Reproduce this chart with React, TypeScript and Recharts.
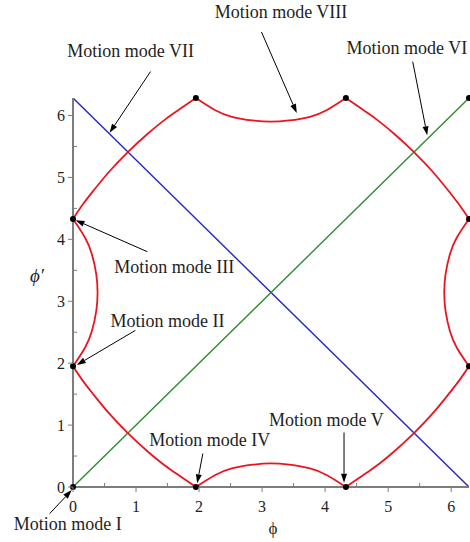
import { LineChart, Line, XAxis, YAxis, ReferenceDot, ReferenceLine } from "recharts";

const TWO_PI = 6.283;
const SERIF = "'Liberation Serif', 'DejaVu Serif', serif";
const AXIS_GRAY = "#7d7d7d";
const INK = "#1e1e1e";

const ticks = [0, 0.5, 1, 1.5, 2, 2.5, 3, 3.5, 4, 4.5, 5, 5.5, 6];

// boundary of the red region, one arc at a time, as [phi, phi'] pairs
const leftArc = [[0, 1.95], [0.19, 2.25], [0.3, 2.52], [0.37, 2.85], [0.39, 3.14], [0.37, 3.43], [0.3, 3.76], [0.19, 4.03], [0, 4.33]];
const rightArc = [[6.283, 1.95], [6.09, 2.25], [5.98, 2.52], [5.91, 2.85], [5.89, 3.14], [5.91, 3.43], [5.98, 3.76], [6.09, 4.03], [6.283, 4.33]];
const bottomArc = [[1.95, 0], [2.25, 0.19], [2.52, 0.3], [2.85, 0.36], [3.14, 0.38], [3.43, 0.36], [3.76, 0.3], [4.03, 0.19], [4.33, 0]];
const topArc = [[1.95, 6.283], [2.25, 6.09], [2.52, 5.98], [2.85, 5.92], [3.14, 5.9], [3.43, 5.92], [3.76, 5.98], [4.03, 6.09], [4.33, 6.283]];
const upperLeftArc = [[0, 4.33], [0.16, 4.57], [0.32, 4.78], [0.58, 5.1], [0.87, 5.41], [1.19, 5.71], [1.48, 5.95], [1.69, 6.1], [1.95, 6.283]];
const lowerLeftArc = [[0, 1.95], [0.16, 1.71], [0.32, 1.5], [0.58, 1.18], [0.87, 0.87], [1.19, 0.57], [1.48, 0.33], [1.69, 0.18], [1.95, 0]];
const upperRightArc = [[4.33, 6.283], [4.59, 6.1], [4.8, 5.95], [5.09, 5.71], [5.41, 5.41], [5.7, 5.1], [5.96, 4.78], [6.12, 4.57], [6.283, 4.33]];
const lowerRightArc = [[4.33, 0], [4.59, 0.18], [4.8, 0.33], [5.09, 0.57], [5.41, 0.87], [5.7, 1.18], [5.96, 1.5], [6.12, 1.71], [6.283, 1.95]];

// the four bulging arcs are smooth splines, the corner arcs stay monotone in phi
const redArcs = [
  { pts: leftArc, curve: "natural" },
  { pts: rightArc, curve: "natural" },
  { pts: bottomArc, curve: "natural" },
  { pts: topArc, curve: "natural" },
  { pts: upperLeftArc, curve: "monotoneX" },
  { pts: lowerLeftArc, curve: "monotoneX" },
  { pts: upperRightArc, curve: "monotoneX" },
  { pts: lowerRightArc, curve: "monotoneX" },
];

const diagonal = [[0, 0], [6.283, 6.283]];
const antiDiagonal = [[0, 6.283], [6.283, 0]];

const modePoints = [
  [0, 0], [0, 1.95], [0, 4.33], [1.95, 0], [4.33, 0],
  [1.95, 6.283], [4.33, 6.283], [6.283, 1.95], [6.283, 4.33], [6.283, 6.283],
];

const modeLabels = [
  { text: "Motion mode I", x: -0.085, y: -0.69, anchor: "middle" },
  { text: "Motion mode II", x: 1.5, y: 2.58, anchor: "middle" },
  { text: "Motion mode III", x: 1.605, y: 3.45, anchor: "middle" },
  { text: "Motion mode IV", x: 2.17, y: 0.67, anchor: "middle" },
  { text: "Motion mode V", x: 4.02, y: 0.98, anchor: "middle" },
  { text: "Motion mode VI", x: 4.34, y: 7.0, anchor: "start" },
  { text: "Motion mode VII", x: 0.915, y: 6.95, anchor: "middle" },
  { text: "Motion mode VIII", x: 3.3, y: 7.58, anchor: "middle" },
];

// [tail, head] in data units
const modeArrows = [
  [[-0.37, -0.43], [-0.02, -0.05]],
  [[0.99, 2.53], [0.06, 1.97]],
  [[1.18, 3.8], [0.04, 4.31]],
  [[2.06, 0.54], [1.97, 0.06]],
  [[4.3, 0.88], [4.3, 0.07]],
  [[5.39, 6.87], [5.62, 5.68]],
  [[1.23, 6.71], [0.58, 5.72]],
  [[2.99, 7.35], [3.55, 6.04]],
];

const toPoints = (arr: number[][]) => arr.map(([x, y]) => ({ x, y }));

const XTick = ({ x, y, payload }: any) => {
  const major = Number.isInteger(payload.value);
  return (
    <g>
      <line x1={x} x2={x} y1={y} y2={major ? y + 5 : y - 4} stroke={AXIS_GRAY} strokeWidth={1} />
      {major && (
        <text x={x} y={y + 25} textAnchor="middle" fontFamily={SERIF} fontSize={16} fill={INK}>
          {payload.value}
        </text>
      )}
    </g>
  );
};

const YTick = ({ x, y, payload }: any) => {
  const major = Number.isInteger(payload.value);
  return (
    <g>
      <line x1={x} x2={major ? x - 5 : x + 4} y1={y} y2={y} stroke={AXIS_GRAY} strokeWidth={1} />
      {major && (
        <text x={x - 8} y={y + 5.5} textAnchor="end" fontFamily={SERIF} fontSize={16} fill={INK}>
          {payload.value}
        </text>
      )}
    </g>
  );
};

const Arrow = ({ x1, y1, x2, y2 }: any) => {
  const a = Math.atan2(y2 - y1, x2 - x1);
  const len = 9;
  const half = 3;
  const bx = x2 - len * Math.cos(a);
  const by = y2 - len * Math.sin(a);
  const head = `${x2},${y2} ${bx - half * Math.sin(a)},${by + half * Math.cos(a)} ${bx + half * Math.sin(a)},${by - half * Math.cos(a)}`;
  return (
    <g>
      <line x1={x1} y1={y1} x2={bx} y2={by} stroke="#000" strokeWidth={1} />
      <polygon points={head} fill="#000" />
    </g>
  );
};

export default function App() {
  return (
    <div style={{ width: 470, height: 542, background: "#fff" }}>
      <style>{"body{margin:0}"}</style>
      <LineChart width={470} height={542} margin={{ top: 98, right: 1, bottom: 0, left: 0 }}>
        <XAxis
          type="number"
          dataKey="x"
          domain={[0, TWO_PI]}
          allowDataOverflow
          ticks={ticks}
          interval={0}
          height={55}
          tickSize={0}
          tickMargin={0}
          tickLine={false}
          tick={<XTick />}
          axisLine={{ stroke: AXIS_GRAY, strokeWidth: 2 }}
          label={{
            content: ({ viewBox }: any) => (
              <text x={viewBox.x + 200} y={viewBox.y + 47} textAnchor="middle" fontFamily={SERIF} fontSize={17} fill={INK}>
                ϕ
              </text>
            ),
          }}
        />
        <YAxis
          type="number"
          dataKey="y"
          domain={[0, TWO_PI]}
          allowDataOverflow
          ticks={ticks}
          interval={0}
          width={73}
          tickSize={0}
          tickMargin={0}
          tickLine={false}
          tick={<YTick />}
          axisLine={{ stroke: AXIS_GRAY, strokeWidth: 2 }}
          label={{
            content: ({ viewBox }: any) => (
              <text x={viewBox.x + 37} y={viewBox.y + 184} textAnchor="middle" fontFamily={SERIF} fontStyle="italic" fontSize={19} fill={INK}>
                ϕ′
              </text>
            ),
          }}
        />
        <Line data={toPoints(antiDiagonal)} dataKey="y" stroke="#2525c9" strokeWidth={1.4} dot={false} isAnimationActive={false} />
        <Line data={toPoints(diagonal)} dataKey="y" stroke="#2e8b30" strokeWidth={1.4} dot={false} isAnimationActive={false} />
        {redArcs.map((arc, i) => (
          <Line
            key={`arc-${i}`}
            data={toPoints(arc.pts)}
            dataKey="y"
            type={arc.curve as any}
            stroke="#ea1520"
            strokeWidth={1.8}
            dot={false}
            isAnimationActive={false}
          />
        ))}
        {modePoints.map(([x, y], i) => (
          <ReferenceDot key={`pt-${i}`} x={x} y={y} r={3} fill="#000" stroke="none" ifOverflow="visible" />
        ))}
        {modeArrows.map(([from, to], i) => (
          <ReferenceLine
            key={`arrow-${i}`}
            segment={[{ x: from[0], y: from[1] }, { x: to[0], y: to[1] }]}
            ifOverflow="visible"
            shape={(p: any) => <Arrow {...p} />}
          />
        ))}
        {modeLabels.map((m) => (
          <ReferenceDot
            key={m.text}
            x={m.x}
            y={m.y}
            r={0}
            ifOverflow="visible"
            shape={(p: any) => (
              <text x={p.cx} y={p.cy} textAnchor={m.anchor} fontFamily={SERIF} fontSize={18} fill={INK}>
                {m.text}
              </text>
            )}
          />
        ))}
      </LineChart>
    </div>
  );
}
